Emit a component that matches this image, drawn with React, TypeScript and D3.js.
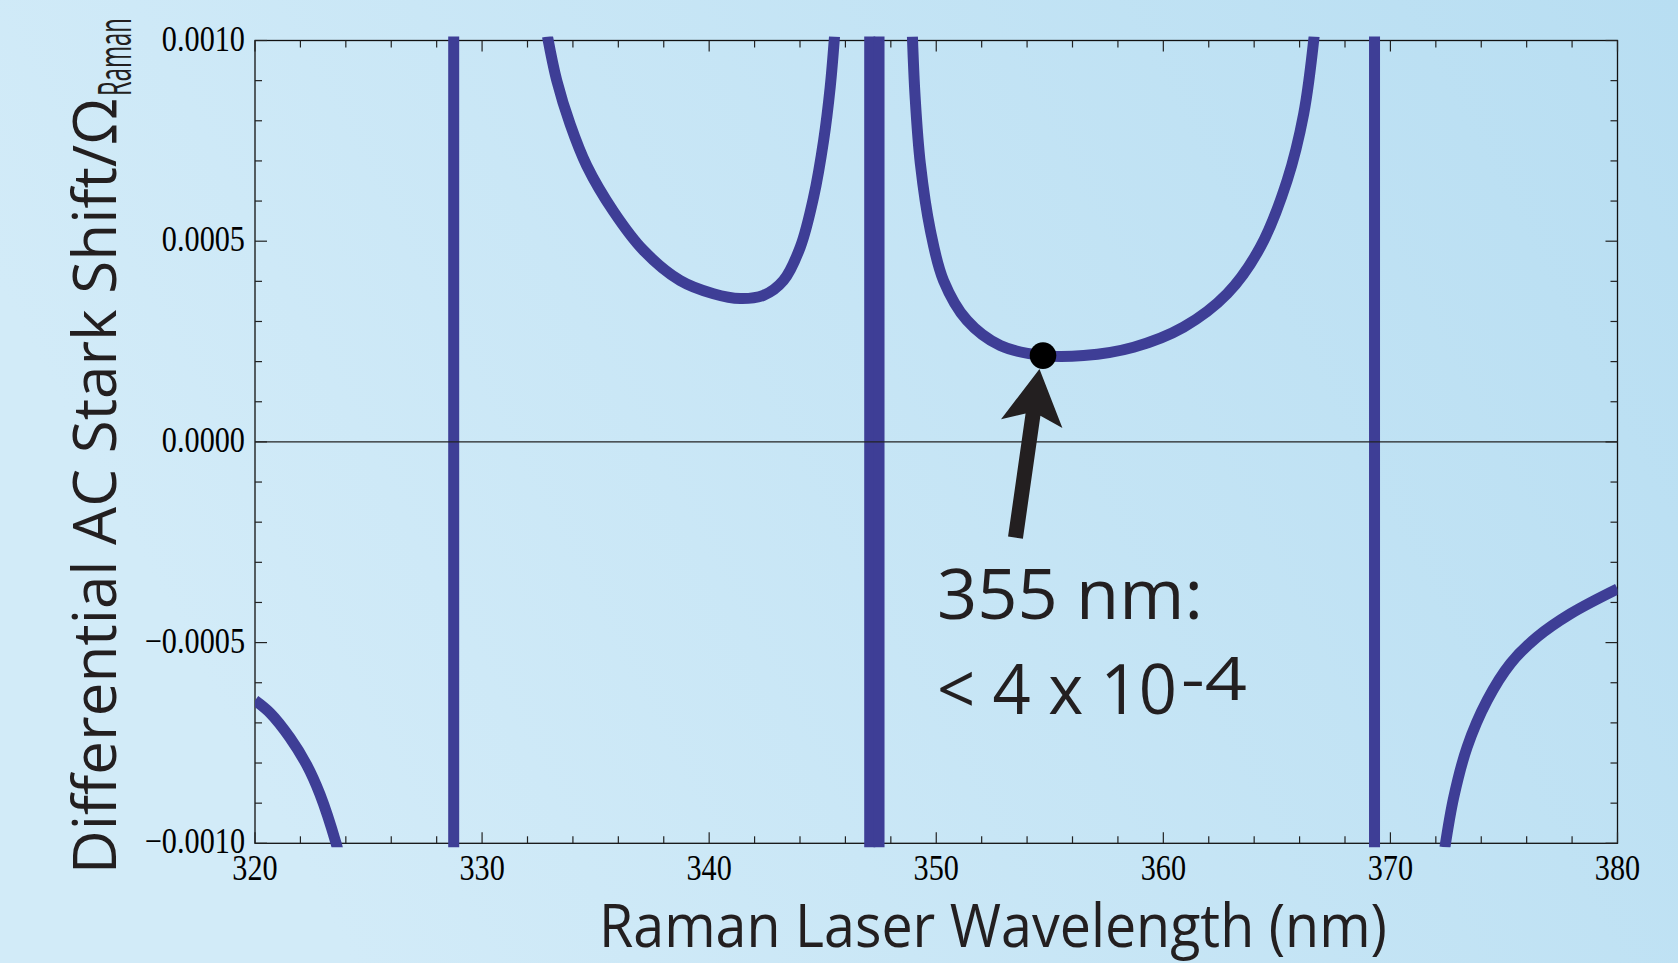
import * as d3 from "d3";

// branch readings (wavelength in nm, differential shift / Omega_Raman)
const branchAWl = [320.0, 320.66, 321.54, 322.28, 322.86, 323.57, 323.66];
const branchAShift = [-0.000644, -0.000675, -0.000737, -0.000805, -0.000878, -0.001, -0.00102];

const branchBWl = [332.88, 333.29, 333.88, 334.61, 335.79, 337.11, 338.72, 340.19, 341.37, 342.39, 343.27, 344.01, 344.6, 345.04, 345.33, 345.52];
const branchBShift = [0.00101, 0.0009, 0.000791, 0.000688, 0.000574, 0.000477, 0.000402, 0.000369, 0.000357, 0.000365, 0.000402, 0.000485, 0.00061, 0.000751, 0.000884, 0.00101];

const branchCWl = [348.95, 349.07, 349.3, 349.74, 350.32, 351.35, 352.82, 354.68, 356.49, 358.69, 360.89, 362.81, 364.27, 365.45, 366.18, 366.64];
const branchCShift = [0.00101, 0.000859, 0.000693, 0.000527, 0.000402, 0.000303, 0.00024, 0.000215, 0.000215, 0.000236, 0.000286, 0.000369, 0.000485, 0.000651, 0.000817, 0.00101];

const branchDWl = [372.4, 372.79, 373.38, 374.26, 375.29, 376.46, 377.93, 380.0];
const branchDShift = [-0.00101, -0.000885, -0.00076, -0.000644, -0.000552, -0.000486, -0.000428, -0.000366];

// resonances where the curve jumps (drawn as vertical strokes)
const poleWl = [328.75, 347.07, 347.48, 369.3];

const markWl = 354.7;
const markShift = 0.000215;

const xTicksMajor = [320, 330, 340, 350, 360, 370, 380];
const yTicksMajor = [0.001, 0.0005, 0, -0.0005, -0.001];

const W = 1678;
const H = 963;
const L = 255, R = 1617.5, T = 40.5, B = 843.3;
const BLUE = "#3e3e96";
const INK = "#231f20";

export default function App() {
  const x = d3.scaleLinear().domain([320, 380]).range([L, R]);
  const y = d3.scaleLinear().domain([-0.001, 0.001]).range([B, T]);

  const line = d3
    .line<[number, number]>()
    .x((d) => x(d[0]))
    .y((d) => y(d[1]))
    .curve(d3.curveCatmullRom.alpha(0.5));

  const branches: [number, number][][] = [
    [branchAWl, branchAShift],
    [branchBWl, branchBShift],
    [branchCWl, branchCShift],
    [branchDWl, branchDShift],
  ].map(([w, s]) => w.map((v, i) => [v, s[i]] as [number, number]));

  const xMinor = d3.range(320, 381, 2);
  const yMinor = d3.range(-10, 11).map((k) => k * 0.0001);
  const fmt = d3.format(".4f");

  // arrow from tail up to the marked point
  const mx = x(markWl), my = y(markShift);
  const tip: [number, number] = [mx - 3.5, my + 13.5];
  const tail: [number, number] = [mx - 27.5, my + 182];
  const len = Math.hypot(tip[0] - tail[0], tip[1] - tail[1]);
  const u = [(tip[0] - tail[0]) / len, (tip[1] - tail[1]) / len];
  const n = [-u[1], u[0]];
  const pt = (along: number, side: number) =>
    [tip[0] - along * u[0] + side * n[0], tip[1] - along * u[1] + side * n[1]].join(",");
  const arrow = [
    pt(0, 0),
    pt(55, 31),
    pt(46, 7.5),
    pt(len, 7.5),
    pt(len, -7.5),
    pt(46, -7.5),
    pt(55, -31),
  ].join(" ");

  return (
    <svg
      width={W}
      height={H}
      style={{ position: "absolute", left: 0, top: 0, display: "block" }}
    >
      <defs>
        <linearGradient id="bg" x1="0" y1="0.3" x2="1" y2="0">
          <stop offset="0" stopColor="#d2ebf8" />
          <stop offset="1" stopColor="#b8def2" />
        </linearGradient>
        <clipPath id="plot">
          <rect x={L} y={T - 4} width={R - L} height={B - T + 8} />
        </clipPath>
      </defs>
      <rect width={W} height={H} fill="url(#bg)" />

      {/* frame and ticks */}
      <rect x={L} y={T} width={R - L} height={B - T} fill="none" stroke="#111" strokeWidth={1.3} />
      {xMinor.map((v) => {
        const len = v % 10 === 0 ? 11 : 7;
        return (
          <g key={"xt" + v} stroke="#222" strokeWidth={1.2}>
            <line x1={x(v)} x2={x(v)} y1={B} y2={B - len} />
            <line x1={x(v)} x2={x(v)} y1={T} y2={T + len} />
          </g>
        );
      })}
      {yMinor.map((v, i) => {
        const len = (i % 5) === 0 ? 12 : 7;
        return (
          <g key={"yt" + i} stroke="#222" strokeWidth={1.2}>
            <line x1={L} x2={L + len} y1={y(v)} y2={y(v)} />
            <line x1={R} x2={R - len} y1={y(v)} y2={y(v)} />
          </g>
        );
      })}

      {/* curve */}
      <g clipPath="url(#plot)">
        {branches.map((b, i) => (
          <path key={"br" + i} d={line(b) || ""} fill="none" stroke={BLUE} strokeWidth={11} />
        ))}
        {poleWl.map((p) => (
          <line key={"p" + p} x1={x(p)} x2={x(p)} y1={T - 5} y2={B + 5} stroke={BLUE} strokeWidth={11} />
        ))}
      </g>
      <line x1={L} x2={R} y1={y(0)} y2={y(0)} stroke="#222" strokeWidth={1.3} />

      <circle cx={mx} cy={my} r={13.3} fill="#000" />
      <polygon points={arrow} fill={INK} />

      {/* tick labels */}
      {yTicksMajor.map((v) => (
        <g key={"yl" + v} transform={`translate(245,${y(v) + 10}) scale(0.84,1)`}>
          <text textAnchor="end" fontFamily="'Liberation Serif', serif" fontSize={36} fill="#000">
            {fmt(v)}
          </text>
        </g>
      ))}
      {xTicksMajor.map((v) => (
        <g key={"xl" + v} transform={`translate(${x(v)},880) scale(0.84,1)`}>
          <text textAnchor="middle" fontFamily="'Liberation Serif', serif" fontSize={36} fill="#000">
            {v}
          </text>
        </g>
      ))}

      {/* axis titles */}
      <text
        x={599}
        y={947}
        fontFamily="'Open Sans', sans-serif"
        fontSize={60}
        fill={INK}
        textLength={788}
        lengthAdjust="spacingAndGlyphs"
      >
        Raman Laser Wavelength (nm)
      </text>
      <g transform="translate(116,874) rotate(-90)">
        <text
          x={0}
          y={0}
          fontFamily="'Open Sans', sans-serif"
          fontSize={60}
          fill={INK}
          textLength={776}
          lengthAdjust="spacingAndGlyphs"
        >
          Differential AC Stark Shift/Ω
        </text>
        <text
          x={778}
          y={15}
          fontFamily="'Open Sans', sans-serif"
          fontSize={45}
          fill={INK}
          textLength={78}
          lengthAdjust="spacingAndGlyphs"
        >
          Raman
        </text>
      </g>

      {/* annotation */}
      <g fontFamily="'Open Sans', sans-serif" fill={INK}>
        <text x={937} y={619} fontSize={70} textLength={266} lengthAdjust="spacingAndGlyphs">
          355 nm:
        </text>
        <text x={937} y={714} fontSize={70} textLength={240} lengthAdjust="spacingAndGlyphs">
          {"< 4 x 10"}
        </text>
        <text x={1181} y={700} fontSize={60} textLength={66} lengthAdjust="spacingAndGlyphs">
          -4
        </text>
      </g>
    </svg>
  );
}
